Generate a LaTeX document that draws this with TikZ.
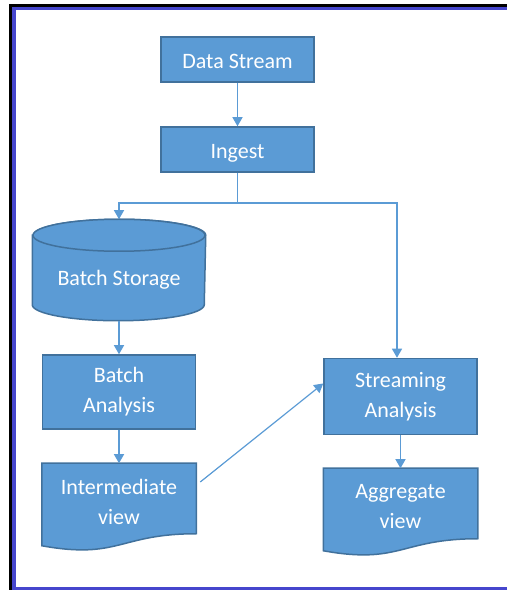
\documentclass[tikz,border=0pt]{standalone}
\usepackage{fontspec}
\setmainfont{Carlito}
\usetikzlibrary{arrows.meta,calc,backgrounds}
\definecolor{boxfill}{RGB}{91,155,213}
\definecolor{boxedge}{RGB}{65,113,156}
\definecolor{linkblue}{RGB}{91,155,213}
\definecolor{frameblue}{RGB}{70,70,205}
\tikzset{
  flowbox/.style={draw=boxedge, fill=boxfill, line width=1.5pt, text=white, align=center,
    font=\fontsize{22}{30}\selectfont, minimum width=153pt, inner sep=0pt},
  onebox/.style={flowbox, minimum height=45pt, text height=22pt, text depth=4pt},
  docbox/.style={flowbox, draw=none, fill=none, minimum height=76pt},
  cylbox/.style={flowbox, draw=none, fill=none, minimum width=172pt, minimum height=100pt,
    text height=36pt, text depth=5pt},
  shapeedge/.style={draw=boxedge, fill=boxfill, line width=1.5pt},
  link/.style={draw=linkblue, line width=1.2pt, -{Triangle[width=10pt,length=9pt]}}
}
\begin{document}
\begin{tikzpicture}[x=1pt,y=1pt]
\useasboundingbox (0,0) rectangle (507,590);
\draw[line width=3pt] (10.5,0) -- (10.5,584.5) -- (507,584.5);
\draw[frameblue, line width=3.5pt] (507,1.5) -- (14,1.5) -- (14,581.5) -- (507,581.5);

\node[onebox] (data) at (237.5,530.5) {Data Stream};
\node[onebox] (ingest) at (237.5,440.5) {Ingest};
\node[cylbox] (store) at (119,320) {Batch Storage};
\node[flowbox, minimum height=74pt] (batch) at (119,198) {Batch\\Analysis};
\node[docbox] (inter) at (119,88) {Intermediate\\view};
\node[flowbox, minimum height=76pt] (stream) at (400.5,193.5) {Streaming\\Analysis};
\node[docbox] (agg) at (400.5,83) {Aggregate\\view};
\coordinate (split) at (237.5,387);

\begin{scope}[on background layer]
\filldraw[shapeedge] ($(store.north west)+(0,-16)$) -- ($(store.south west)+(0,16)$)
  arc[start angle=180, end angle=360, x radius=86, y radius=16]
  -- ($(store.north east)+(0,-16)$)
  arc[start angle=0, end angle=180, x radius=86, y radius=16] -- cycle;
\filldraw[shapeedge] ($(store.north)+(0,-16)$) ellipse[x radius=86, y radius=16];

\foreach \n in {inter,agg}
\filldraw[shapeedge] (\n.north west) -- (\n.north east) -- ($(\n.south east)+(0,7)$)
  .. controls ($(\n.south)+(0,7)$) and ($(\n.south)+(0,-19)$) .. ($(\n.south west)+(0,-5)$) -- cycle;
\end{scope}

\foreach \a/\b in {data/ingest,store/batch,batch/inter,stream/agg}
\draw[link] (\a.south) -- (\b.north);

\draw[link] (ingest.south) -- (split) -| (store.north);
\draw[link] (split) -| ([xshift=-3.5pt]stream.north);
\draw[link] ([shift={(4pt,20pt)}]inter.east) -- ([yshift=13pt]stream.west);
\end{tikzpicture}
\end{document}
